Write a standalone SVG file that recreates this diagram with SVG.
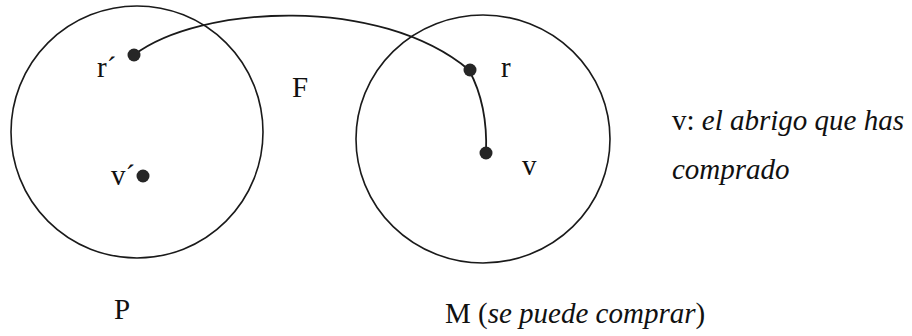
<svg xmlns="http://www.w3.org/2000/svg" width="912" height="336" viewBox="0 0 912 336">
<style>
.set{fill:none;stroke:#1a1a1a;stroke-width:1.6}
.dot{fill:#262626}
.conn{fill:none;stroke:#1a1a1a;stroke-width:1.8}
text{font-family:"Liberation Serif","Times New Roman",serif;font-size:29px;fill:#111}
.it{font-style:italic}
</style>
<rect width="912" height="336" fill="#fff"/>
<g id="set-P">
<circle class="set" cx="137" cy="132" r="126"/>
<text x="114" y="319">P</text>
</g>
<g id="set-M">
<ellipse class="set" cx="483" cy="139" rx="127" ry="124"/>
<text x="445" y="323">M (<tspan class="it">se puede comprar</tspan>)</text>
</g>
<g id="connectors">
<path class="conn" d="M134,55 C200,5 380,-5 469,70"/>
<path class="conn" d="M469,70 Q488,105 486,153"/>
</g>
<g id="node-r-prime">
<circle class="dot" cx="134" cy="55" r="6.5"/>
<text x="97" y="77">r´</text>
</g>
<g id="node-v-prime">
<circle class="dot" cx="143" cy="176" r="6.5"/>
<text x="111" y="185">v´</text>
</g>
<g id="node-r">
<circle class="dot" cx="470" cy="70" r="6.5"/>
<text x="501" y="77">r</text>
</g>
<g id="node-v">
<circle class="dot" cx="486" cy="153" r="6.5"/>
<text x="522" y="175">v</text>
</g>
<g id="label-F">
<text x="292" y="97">F</text>
</g>
<g id="legend">
<text x="672" y="130">v: <tspan class="it">el abrigo que has</tspan></text>
<text x="672" y="179" class="it">comprado</text>
</g>
</svg>
